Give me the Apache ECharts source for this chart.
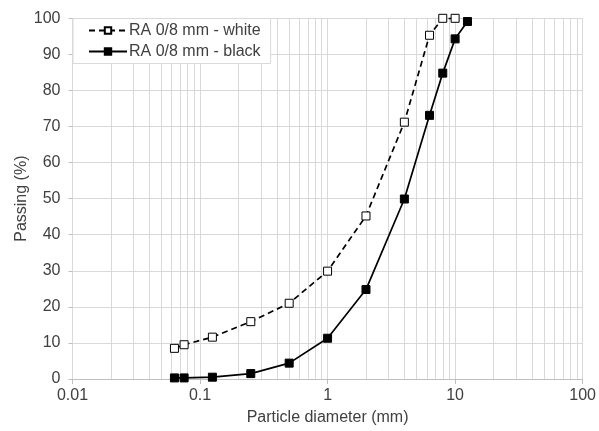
<!DOCTYPE html>
<html><head><meta charset="utf-8">
<script src="https://cdn.jsdelivr.net/npm/echarts@6/dist/echarts.min.js"></script>
<style>html,body{margin:0;padding:0;background:#fff}#c{width:599px;height:431px}</style>
</head><body><div id="c"></div>
<script>
const whiteSizes = [0.063, 0.075, 0.125, 0.25, 0.5, 1, 2, 4, 6.3, 8, 10];
const whitePassing = [8.5, 9.5, 11.6, 15.9, 21, 29.9, 45.2, 71.2, 95.3, 100, 100];
const blackSizes = [0.063, 0.075, 0.125, 0.25, 0.5, 1, 2, 4, 6.3, 8, 10, 12.5];
const blackPassing = [0.3, 0.3, 0.5, 1.5, 4.4, 11.3, 24.8, 49.9, 73.1, 84.8, 94.3, 99.1];
const minorGridValues = [0.02,0.03,0.04,0.05,0.06,0.07,0.08,0.09,
  0.2,0.3,0.4,0.5,0.6,0.7,0.8,0.9, 2,3,4,5,6,7,8,9, 20,30,40,50,60,70,80,90];
const xTicks = [0.01, 0.1, 1, 10, 100];
const seriesNames = ['RA 0/8 mm - white', 'RA 0/8 mm - black'];

const zip = (a, b) => a.map((v, i) => [v, b[i]]);
const font = 'Liberation Sans, Arial, sans-serif';
const txt = '#404040';
const gridCol = '#d9d9d9';

const chart = echarts.init(document.getElementById('c'));
chart.setOption({
  animation: false,
  backgroundColor: '#fff',
  textStyle: { fontFamily: font },
  grid: { left: 72.5, right: 12, top: 18.3, bottom: 50, containLabel: false },
  legend: {
    data: seriesNames,
    orient: 'vertical',
    left: 73, top: 18.5,
    backgroundColor: '#fff',
    borderColor: gridCol, borderWidth: 1,
    padding: [4, 10, 4, 15],
    itemWidth: 38, itemHeight: 8, itemGap: 5,
    textStyle: { fontSize: 16, color: txt, fontFamily: font, padding: [0, 0, 0, -3] }
  },
  xAxis: {
    type: 'log', logBase: 10, min: 0.01, max: 100,
    name: 'Particle diameter (mm)', nameLocation: 'middle', nameGap: 31,
    nameTextStyle: { fontSize: 16, color: txt, fontFamily: font },
    axisLine: { show: true, lineStyle: { color: '#bfbfbf', width: 1 } },
    axisTick: { show: true, length: 5, lineStyle: { color: '#bfbfbf' } },
    axisLabel: { fontSize: 16, color: txt, fontFamily: font, margin: 9,
      formatter: v => { const m = xTicks.find(t => Math.abs(t - v) / t < 1e-6); return m !== undefined ? String(m) : ''; } },
    splitLine: { show: true, lineStyle: { color: gridCol, width: 1 } }
  },
  yAxis: {
    type: 'value', min: 0, max: 100, interval: 10,
    name: 'Passing (%)', nameLocation: 'middle', nameGap: 43,
    nameMoveOverlap: false,
    nameTextStyle: { fontSize: 16, color: txt, fontFamily: font },
    axisLine: { show: true, lineStyle: { color: gridCol } },
    axisTick: { show: true, length: 4, lineStyle: { color: '#bfbfbf' } },
    axisLabel: { fontSize: 16, color: txt, fontFamily: font, margin: 12 },
    splitLine: { show: true, lineStyle: { color: gridCol, width: 1 } }
  },
  series: [
    {
      name: 'minor grid', type: 'line', data: [], silent: true, z: 0,
      markLine: {
        z: 0,
        silent: true, symbol: 'none', animation: false,
        label: { show: false },
        lineStyle: { color: gridCol, width: 1, type: 'solid' },
        data: minorGridValues.map(v => ({ xAxis: v }))
      }
    },
    {
      name: seriesNames[0], type: 'line', z: 3,
      data: zip(whiteSizes, whitePassing),
      symbol: 'rect', symbolSize: 8, showAllSymbol: true,
      lineStyle: { color: '#000', width: 1.7, type: [6, 4] },
      itemStyle: { color: '#fff', borderColor: '#000', borderWidth: 1 }
    },
    {
      name: seriesNames[1], type: 'line', z: 3,
      data: zip(blackSizes, blackPassing),
      symbol: 'rect', symbolSize: 8, showAllSymbol: true,
      lineStyle: { color: '#000', width: 1.7, type: 'solid' },
      itemStyle: { color: '#000', borderColor: '#000', borderWidth: 1 }
    }
  ]
});
</script></body></html>
